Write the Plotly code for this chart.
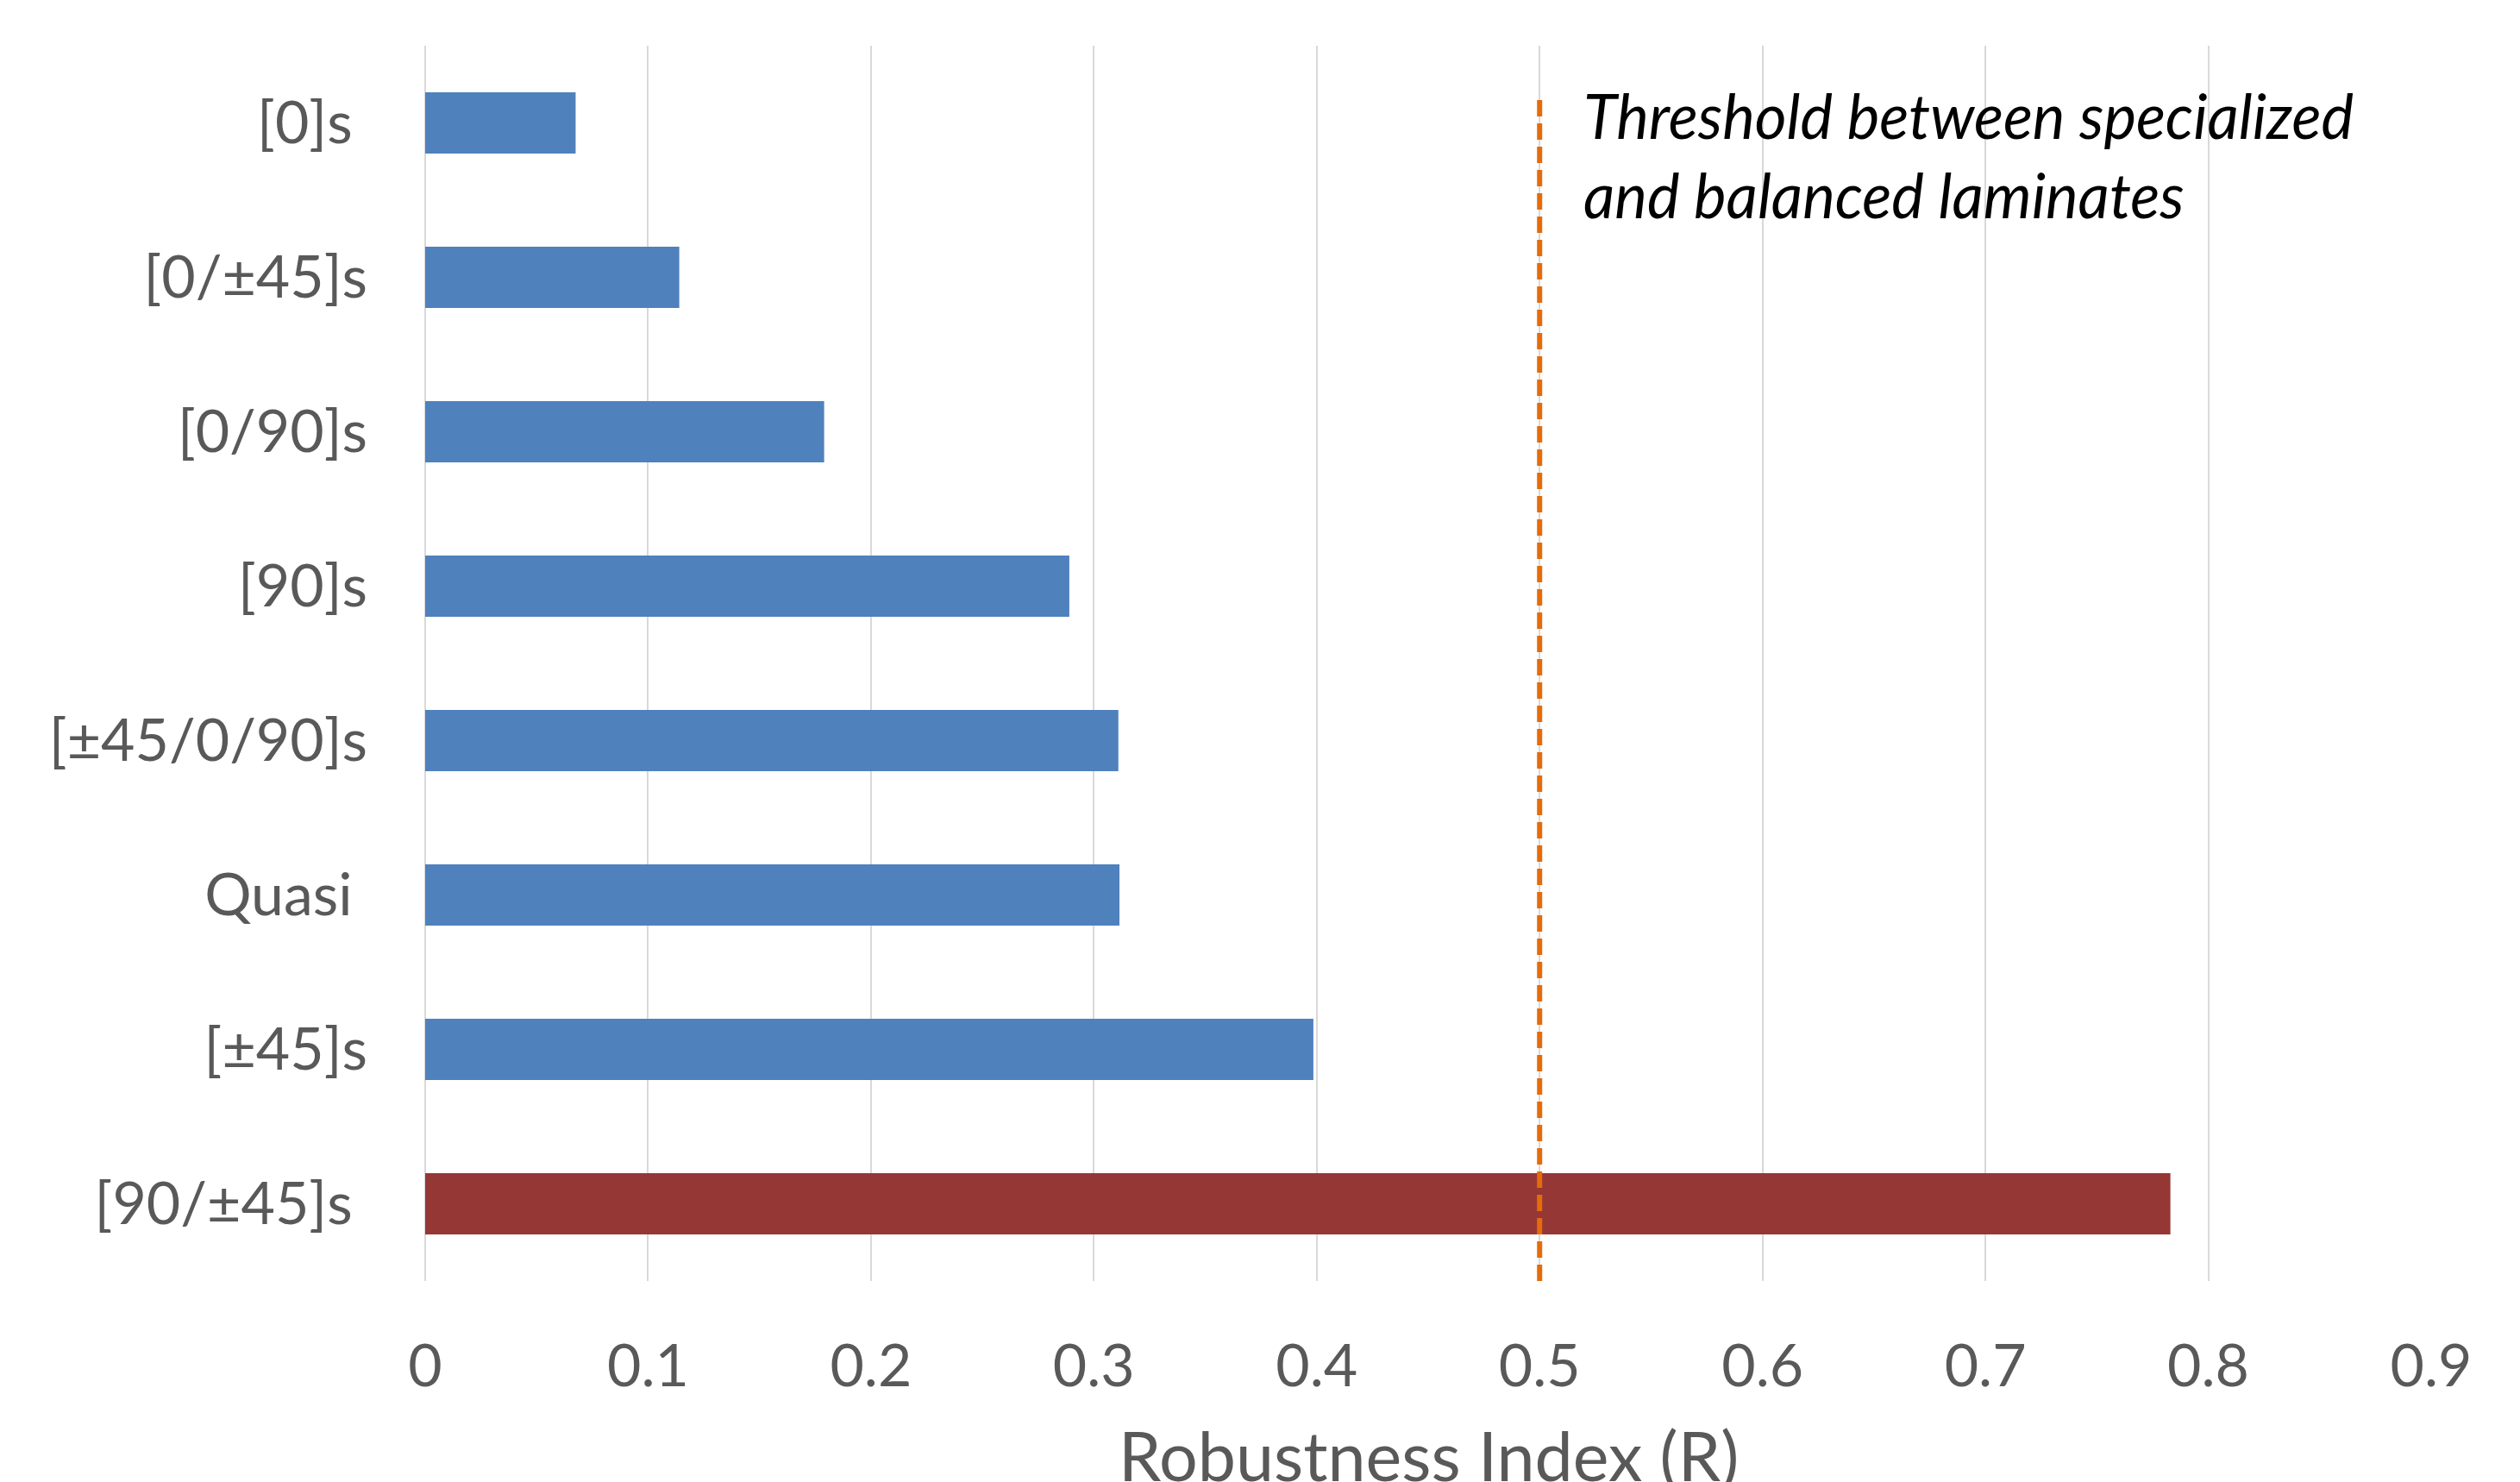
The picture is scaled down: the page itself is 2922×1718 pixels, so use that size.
import plotly.graph_objects as go

# Laminate layups, listed top to bottom
layups = ["[0]s\u00a0", "[0/±45]s", "[0/90]s", "[90]s", "[±45/0/90]s",
          "Quasi\u00a0", "[±45]s", "[90/±45]s\u00a0"]
robustness = [0.0675, 0.114, 0.179, 0.289, 0.311, 0.3115, 0.3985, 0.783]
bar_colors = ["#4F81BD"] * 7 + ["#953735"]

x_ticks = [0, 0.1, 0.2, 0.3, 0.4, 0.5, 0.6, 0.7, 0.8, 0.9]
x_tick_text = ["0", "0.1", "0.2", "0.3", "0.4", "0.5", "0.6", "0.7", "0.8", "0.9"]
x_title = "Robustness Index (R)"

threshold = 0.5
threshold_note = "Threshold between specialized<br>and balanced laminates"

FONT = "Lato"
GREY = "#595959"
GRID = "#D9D9D9"

fig = go.Figure(
    go.Bar(
        y=layups,
        x=robustness,
        orientation="h",
        marker=dict(color=bar_colors, line=dict(width=0)),
        hoverinfo="skip",
    )
)

fig.update_layout(
    width=2922,
    height=1718,
    margin=dict(l=493, r=103, t=53, b=233),
    paper_bgcolor="white",
    plot_bgcolor="white",
    bargap=0.603,
    showlegend=False,
    font=dict(family=FONT, color=GREY),
)

fig.update_xaxes(
    range=[0, 0.9],
    tickvals=x_ticks,
    ticktext=x_tick_text,
    tickfont=dict(family=FONT, size=68, color=GREY),
    showgrid=True,
    gridcolor=GRID,
    gridwidth=2,
    zeroline=True,
    zerolinecolor=GRID,
    zerolinewidth=2,
    showline=False,
    ticks="",
    automargin=False,
    ticklabelstandoff=53,
)

fig.update_yaxes(
    autorange="reversed",
    tickfont=dict(family=FONT, size=68, color=GREY),
    showgrid=False,
    showline=False,
    ticks="",
    automargin=False,
    ticklabelstandoff=66,
)

# Axis title sits low enough to run off the bottom edge of the page
fig.add_annotation(
    xref="paper", yref="paper",
    x=0.5, y=-0.106,
    xanchor="center", yanchor="top",
    text=x_title,
    showarrow=False,
    font=dict(family=FONT, size=79, color=GREY),
)

# Threshold marker at R = 0.5
fig.add_shape(
    type="line",
    xref="x", yref="paper",
    x0=threshold, x1=threshold, y0=0, y1=0.960,
    line=dict(color="#E46C0A", width=6, dash="19px,8px"),
    layer="above",
)

fig.add_annotation(
    xref="x", yref="paper",
    x=threshold + 0.019, y=0.975,
    xanchor="left", yanchor="top",
    align="left",
    text=threshold_note,
    showarrow=False,
    font=dict(family=FONT, size=71, color="black", style="italic"),
)

fig.write_html("out.html")
